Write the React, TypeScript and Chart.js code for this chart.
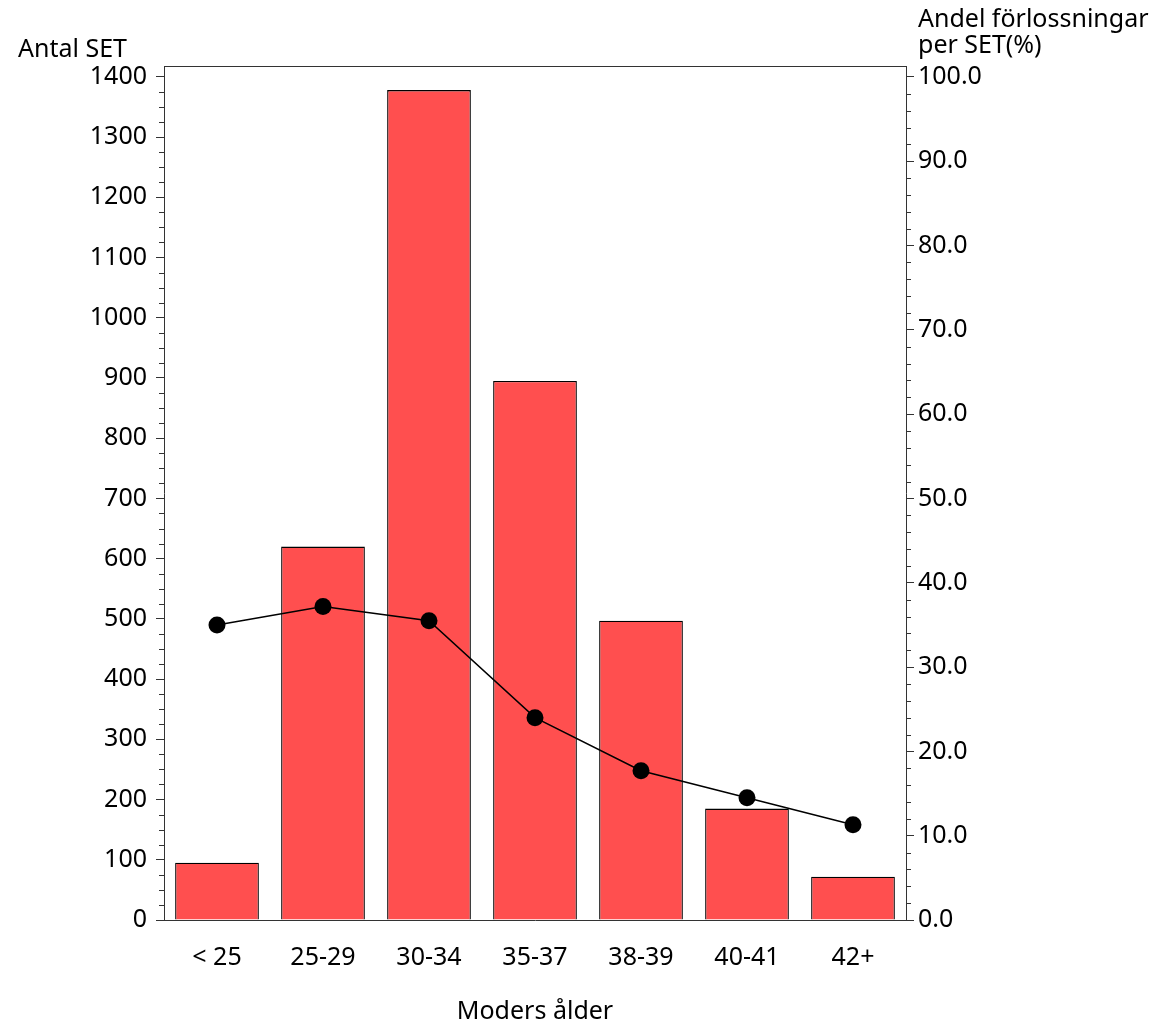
import { useEffect, useRef } from "react";
import { Chart, registerables } from "chart.js";

Chart.register(...registerables);

const categories = ["< 25", "25-29", "30-34", "35-37", "38-39", "40-41", "42+"];
const antalSET = [95, 620, 1378, 895, 497, 185, 72];
const andelPct = [35.0, 37.2, 35.5, 24.0, 17.7, 14.5, 11.3];
const leftTicks = [0, 100, 200, 300, 400, 500, 600, 700, 800, 900, 1000, 1100, 1200, 1300, 1400];
const rightTicks = [0, 10, 20, 30, 40, 50, 60, 70, 80, 90, 100];
const leftTitle = "Antal SET";
const rightTitle = ["Andel förlossningar", "per SET(%)"];
const xTitle = "Moders ålder";

const FONT = "'Noto Sans', sans-serif";
const AXIS = "#333";

const decorPlugin = {
  id: "decor",
  afterDraw(chart: any) {
    const ctx = chart.ctx;
    const a = chart.chartArea;
    const y = chart.scales.y;
    const y1 = chart.scales.y1;
    ctx.save();
    ctx.strokeStyle = AXIS;
    ctx.lineWidth = 1;
    ctx.beginPath();
    ctx.moveTo(a.left, a.top + 0.5);
    ctx.lineTo(a.right, a.top + 0.5);
    ctx.stroke();
    for (let v = 25; v < 1400; v += 25) {
      if (v % 100 === 0) continue;
      const py = Math.round(y.getPixelForValue(v)) + 0.5;
      ctx.beginPath();
      ctx.moveTo(a.left - 5, py);
      ctx.lineTo(a.left, py);
      ctx.stroke();
    }
    for (let v = 2; v < 100; v += 2) {
      if (v % 10 === 0) continue;
      const py = Math.round(y1.getPixelForValue(v)) + 0.5;
      ctx.beginPath();
      ctx.moveTo(a.right, py);
      ctx.lineTo(a.right + 5, py);
      ctx.stroke();
    }
    ctx.fillStyle = "#000";
    ctx.font = `25px ${FONT}`;
    ctx.textBaseline = "alphabetic";
    ctx.textAlign = "left";
    ctx.fillText(leftTitle, 18, 57);
    ctx.fillText(rightTitle[0], 918, 27);
    ctx.fillText(rightTitle[1], 918, 53);
    ctx.textAlign = "center";
    ctx.fillText(xTitle, (a.left + a.right) / 2, 1019);
    ctx.restore();
  },
};

export default function App() {
  const ref = useRef<HTMLCanvasElement | null>(null);
  useEffect(() => {
    document.body.style.margin = "0";
    const chart = new Chart(ref.current as HTMLCanvasElement, {
      type: "bar",
      data: {
        labels: categories,
        datasets: [
          {
            type: "line",
            label: "Andel",
            data: andelPct,
            yAxisID: "y1",
            borderColor: "#000",
            borderWidth: 1.5,
            pointRadius: 8.5,
            pointBackgroundColor: "#000",
            pointBorderColor: "#000",
            pointBorderWidth: 0,
            tension: 0,
            order: 0,
          } as any,
          {
            type: "bar",
            label: "Antal",
            data: antalSET,
            yAxisID: "y",
            backgroundColor: "#FF4F4F",
            borderColor: "#000",
            borderWidth: 1.3,
            barPercentage: 0.79,
            categoryPercentage: 1,
            order: 1,
          },
        ],
      },
      options: {
        animation: false,
        responsive: false,
        maintainAspectRatio: false,
        layout: { padding: { top: 66, left: 0, right: 0, bottom: 0 } },
        plugins: { legend: { display: false }, tooltip: { enabled: false } },
        scales: {
          x: {
            offset: true,
            grid: { display: false, drawTicks: false },
            border: { display: true, color: AXIS, width: 1 },
            ticks: { color: "#000", font: { family: FONT, size: 25 }, padding: 23, maxRotation: 0 },
            afterFit: (s: any) => { s.height = 104; },
          },
          y: {
            position: "left",
            min: 0,
            max: 1418,
            afterBuildTicks: (s: any) => { s.ticks = leftTicks.map((v) => ({ value: v })); },
            grid: { display: true, drawOnChartArea: false, drawTicks: true, tickLength: 8, color: AXIS },
            border: { display: true, color: AXIS, width: 1 },
            ticks: {
              color: "#000",
              font: { family: FONT, size: 25 },
              padding: 9,
              callback: (v: any) => String(v),
            },
            afterFit: (s: any) => { s.width = 164; },
          },
          y1: {
            position: "right",
            min: 0,
            max: 101.3,
            afterBuildTicks: (s: any) => { s.ticks = rightTicks.map((v) => ({ value: v })); },
            grid: { display: true, drawOnChartArea: false, drawTicks: true, tickLength: 8, color: AXIS },
            border: { display: true, color: AXIS, width: 1 },
            ticks: {
              color: "#000",
              font: { family: FONT, size: 25 },
              padding: 4,
              callback: (v: any) => Number(v).toFixed(1),
            },
            afterFit: (s: any) => { s.width = 247; },
          },
        },
      },
      plugins: [decorPlugin],
    });
    return () => chart.destroy();
  }, []);
  return (
    <div style={{ position: "absolute", left: 0, top: 0, width: 1153, height: 1024 }}>
      <canvas ref={ref} width={1153} height={1024} style={{ width: 1153, height: 1024 }} />
    </div>
  );
}
